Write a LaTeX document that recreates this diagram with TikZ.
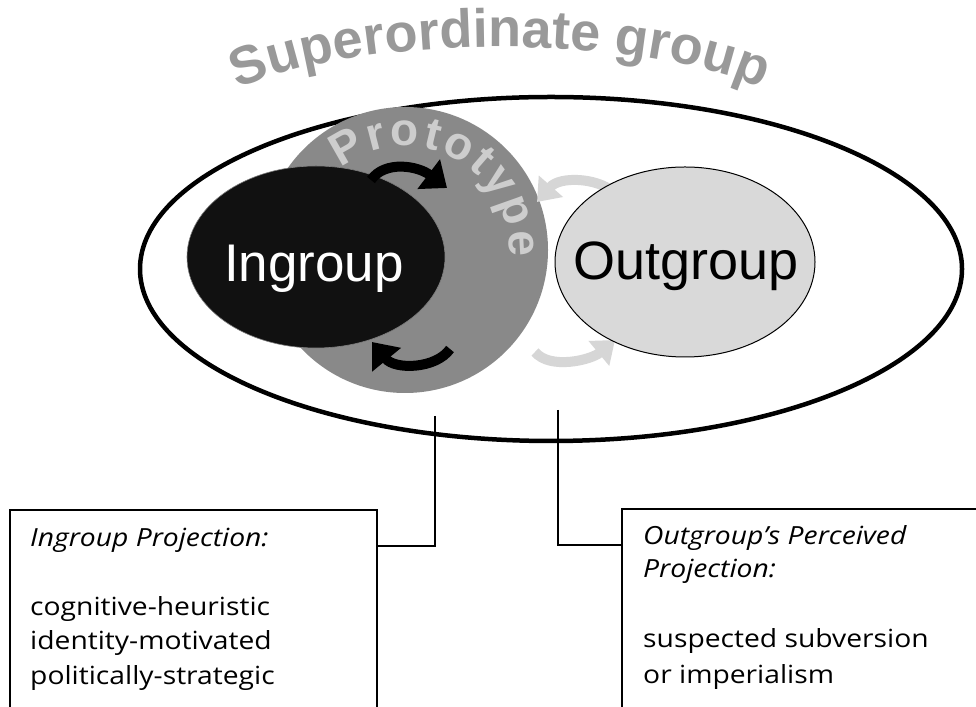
\documentclass[tikz,border=0pt]{standalone}
\usepackage{fontspec}
\setmainfont{Open Sans}
\newfontfamily\labfont{Open Sans}[FakeStretch=1.13]
\newfontfamily\arialfont{Liberation Sans}
\usetikzlibrary{arrows.meta,decorations.text,shapes.geometric}
\definecolor{protogray}{HTML}{898989}
\definecolor{ingr}{HTML}{111111}
\definecolor{outg}{HTML}{D9D9D9}
\definecolor{lgarrow}{HTML}{D6D6D6}
\definecolor{supfill}{HTML}{999999}
\definecolor{protofill}{HTML}{CDCDCD}
\begin{document}
\begin{tikzpicture}[x=1pt,y=1pt,
  blackarrow/.style={line width=10pt, draw=black, -{Triangle[length=23pt,width=36pt]}},
  grayarrow/.style={line width=10pt, draw=lgarrow, -{Triangle[length=21pt,width=31pt]}},
  conn/.style={draw=black, line width=1.6pt},
  boxstyle/.style={draw=black, line width=1.6pt, anchor=north west, inner sep=0pt},
  lab/.style={anchor=base west, inner sep=0pt, font=\labfont\fontsize{25}{30}\selectfont},
  bigname/.style={anchor=base, inner sep=0pt, font=\arialfont\fontsize{54}{54}\selectfont}
]
\useasboundingbox (0,0) rectangle (976,706);
\fill[white] (0,0) rectangle (976,706);

% superordinate ellipse
\node[ellipse, draw=black, line width=4.5pt, minimum width=822pt, minimum height=344pt, inner sep=0pt] (super) at (551,437) {};

% prototype circle
\node[circle, fill=protogray, minimum size=286pt, inner sep=0pt] (proto) at (405,456) {};

% prototype arched text
\path[decorate, decoration={text along path, text align=fit to path,
    text={|\arialfont\bfseries\fontsize{46}{46}\selectfont\color{protofill}|Prototype}}]
    ([shift={(128:104pt)}]405,456) arc[start angle=128, end angle=-4, radius=104pt];

% ingroup
\node[ellipse, fill=ingr, draw=gray, line width=0.6pt, minimum width=258pt, minimum height=182pt, inner sep=0pt] (ing) at (316,449) {};
\node[bigname, text=white, font=\arialfont\fontsize{53}{53}\selectfont] (ingt) at (314,424) {Ingroup};

% black arrows
\draw[blackarrow] (371,526) .. controls (385,546) and (418,540) .. (447,518);
\draw[blackarrow] (450,357) .. controls (436,337) and (395,336) .. (372,364);

% gray arrows
\draw[grayarrow] (612,515) .. controls (596,528) and (560,530) .. (537,504);
\draw[grayarrow] (535,354) .. controls (550,336) and (591,346) .. (615,366);

% outgroup
\node[ellipse, fill=outg, draw=black, line width=1pt, minimum width=260pt, minimum height=190pt, inner sep=0pt] (outg) at (685,444) {};
\node[bigname, text=black] (outgt) at (686,426) {Outgroup};

% superordinate group arched text
\path[decorate, decoration={text along path, text align=center,
    text={|\arialfont\bfseries\fontsize{54}{54}\selectfont\color{supfill}|Superordinate group}}]
    ([shift={(150:310pt and 90pt)}]500,569) arc[start angle=150, end angle=30, x radius=310pt, y radius=90pt];

% boxes
\node[boxstyle, minimum width=367pt, minimum height=230pt] (lbox) at (9,197) {};
\node[boxstyle, minimum width=380pt, minimum height=230pt] (rbox) at (621,198) {};

% connectors
\coordinate (lstart) at (435,290);
\coordinate (rstart) at (558,296);
\coordinate (lj) at (376,160);
\coordinate (rj) at (621,161);
\draw[conn] (lstart) |- (lj);
\draw[conn] (rstart) |- (rj);

% box texts
\node[lab] (l1) at (30,159) {\itshape Ingroup Projection:};
\node[lab] (l2) at (30,90) {cognitive-heuristic};
\node[lab] (l3) at (30,56) {identity-motivated};
\node[lab] (l4) at (30,21) {politically-strategic};
\node[lab] (r1) at (643,161) {\itshape Outgroup’s Perceived};
\node[lab] (r2) at (643,128) {\itshape Projection:};
\node[lab] (r3) at (643,58) {suspected subversion};
\node[lab] (r4) at (643,23) {or imperialism};
\end{tikzpicture}
\end{document}
